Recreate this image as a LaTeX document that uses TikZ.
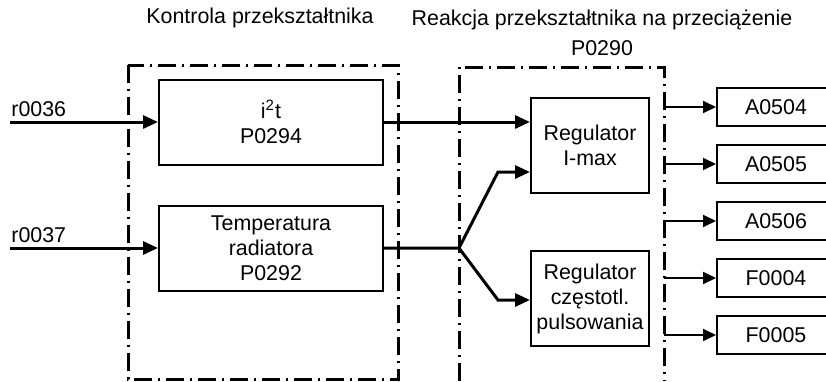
\documentclass[tikz,border=0pt]{standalone}
\usepackage{fontspec}
\setmainfont{Liberation Sans}
\usetikzlibrary{arrows.meta,positioning}

\begin{document}
\begin{tikzpicture}[x=0.5pt,y=-0.5pt,font=\fontsize{10.7}{12.5}\selectfont,
  box/.style={draw,line width=1pt,align=center,inner sep=2pt},
  blok/.style={box,minimum width=112pt,minimum height=42.5pt},
  reg/.style={box,minimum width=59pt,minimum height=47.5pt},
  wyj/.style={box,minimum width=59pt,minimum height=19pt},
  arr/.style={-{Triangle[length=7.5pt,width=6.5pt]},line width=1.5pt},
  tarr/.style={-{Triangle[length=6.5pt,width=6pt]},line width=1pt},
  ramka/.style={line width=1.5pt,dash pattern=on 9pt off 3pt on 1pt off 3pt},
  tytul/.style={align=center,font=\fontsize{10.7}{15}\selectfont},
  node distance=8.5pt]
  \useasboundingbox (0,0) rectangle (826,381);
  \node[tytul](t1) at (260,18){Kontrola przekształtnika};
  \node[tytul](t2) at (602,33){Reakcja przekształtnika na przeciążenie\\P0290};
  \draw[ramka](128,65) rectangle (398,379);
  \draw[ramka](459,381) |- (664,67) -- (664,381);
  \coordinate (pr) at (664,67);
  \node[blok](i2t) at (271,122){i\textsuperscript{2}t\\P0294};
  \node[blok](temp) at (271,248){Temperatura\\radiatora\\P0292};
  \node[reg](rmax) at (590,145.5){Regulator\\I-max};
  \node[reg](rfreq) at (590,298.5){Regulator\\częstotl.\\pulsowania};
  \node[wyj](a504) at (776,107){A0504};
  \node[wyj,below=of a504](a505){A0505};
  \node[wyj,below=of a505](a506){A0506};
  \node[wyj,below=of a506](f004){F0004};
  \node[wyj,below=of f004](f005){F0005};
  \coordinate (we1) at (10,122);
  \coordinate (we2) at (10,248);
  \node[anchor=base west,inner sep=0pt](r1) at (11,116){r0036};
  \node[anchor=base west,inner sep=0pt](r2) at (11,242){r0037};
  \coordinate (j) at (459,248);
  \coordinate (k1) at (498,172);
  \coordinate (k2) at (498,300);
  \draw[arr](we1)--(i2t.west);\draw[arr](we2)--(temp.west);
  \draw[arr](i2t.east)--(i2t.east -| rmax.west);
  \draw[arr](temp.east)--(j)--(k1)--(k1 -| rmax.west);
  \draw[arr](j)--(k2)--(k2 -| rfreq.west);
  \draw[tarr](pr |- a504.west)--(a504.west);\draw[tarr](pr |- a505.west)--(a505.west);
  \draw[tarr](pr |- a506.west)--(a506.west);\draw[tarr](pr |- f004.west)--(f004.west);
  \draw[tarr](pr |- f005.west)--(f005.west);
\end{tikzpicture}
\end{document}
